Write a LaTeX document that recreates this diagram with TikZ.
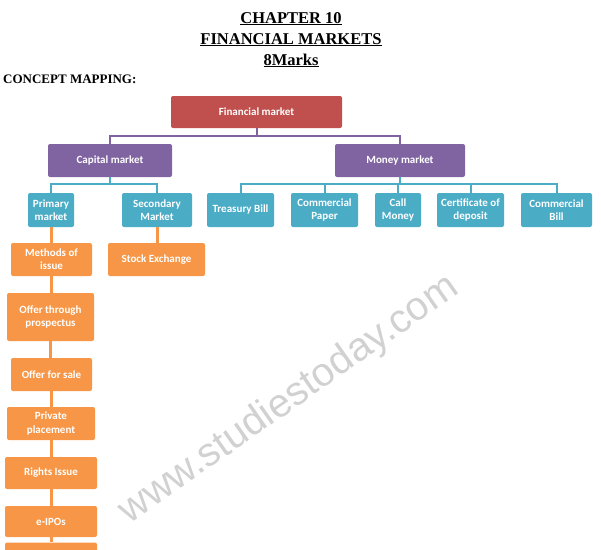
\documentclass[tikz,border=0pt]{standalone}
\usepackage{fontspec}
\usepackage{xcolor}
\usepackage{tikz}
\usetikzlibrary{positioning,calc}
\setmainfont{Liberation Serif}
\newfontfamily\boxfont{Carlito}
\newfontfamily\markfont{Liberation Sans}
\definecolor{fmred}{HTML}{C0504D}
\definecolor{fmpurple}{HTML}{8064A2}
\definecolor{fmteal}{HTML}{4BACC6}
\definecolor{fmorange}{HTML}{F79646}

\begin{document}
\begin{tikzpicture}[x=1pt, y=-1pt, every node/.style={align=center},
  box/.style={rounded corners=2pt, inner sep=1pt, text=white, font=\boxfont\bfseries\fontsize{11}{13.3}\selectfont},
  redbox/.style={box, fill=fmred},
  purplebox/.style={box, fill=fmpurple},
  tealbox/.style={box, fill=fmteal, minimum height=34pt},
  orangebox/.style={box, fill=fmorange, minimum height=33pt},
  purpleline/.style={draw=fmpurple, line width=2pt},
  tealline/.style={draw=fmteal, line width=2pt},
  orangeline/.style={draw=fmorange, line width=3pt}]
\clip (0,0) rectangle (601,549);
\node[rotate=35, text=black!18, font=\markfont\fontsize{40}{40}\selectfont] (mark) at (289,400) {www.studiestoday.com};
\node[font=\bfseries\fontsize{16.5}{20}\selectfont, anchor=base] (chap) at (291,23) {\underline{CHAPTER 10}};
\node[font=\bfseries\fontsize{16.5}{20}\selectfont, anchor=base] (title) at (291,44) {\underline{FINANCIAL MARKETS}};
\node[font=\bfseries\fontsize{16.5}{20}\selectfont, anchor=base] (marks) at (291,65) {\underline{8Marks}};
\node[font=\bfseries\fontsize{13}{15}\selectfont, anchor=base west, inner sep=0pt] (cmap) at (3,83) {CONCEPT MAPPING:};

\node[redbox, minimum width=171pt, minimum height=32pt] (fin) at (256.5,112) {Financial market};
\node[purplebox, minimum width=124pt, minimum height=33pt] (cap) at (110,160.5) {Capital market};
\node[purplebox, minimum width=130pt, minimum height=33pt] (mon) at (400,160.5) {Money market};

\node[tealbox, minimum width=46pt] (prim) at (51,210) {Primary\\market};
\node[tealbox, minimum width=70pt] (sec) at (157,210) {Secondary\\Market};
\node[tealbox, minimum width=67pt] (tb) at (240.5,210) {Treasury Bill};
\node[tealbox, minimum width=67pt] (cp) at (324.5,210) {Commercial\\Paper};
\node[tealbox, minimum width=46pt] (cm) at (398,210) {Call\\Money};
\node[tealbox, minimum width=67pt] (cd) at (470.5,210) {Certificate of\\deposit};
\node[tealbox, minimum width=71pt] (cb) at (556.5,210) {Commercial\\Bill};

\node[orangebox, minimum width=81pt] (moi) at (51.5,259.5) {Methods of\\issue};
\node[orangebox, minimum width=97pt] (se) at (156.5,259.5) {Stock Exchange};
\node[orangebox, minimum width=87pt, minimum height=48pt] (otp) at (50.5,317) {Offer through\\prospectus};
\node[orangebox, minimum width=81pt] (ofs) at (51.5,374.5) {Offer for sale};
\node[orangebox, minimum width=88pt] (pp) at (51,423.5) {Private\\placement};
\node[orangebox, minimum width=92pt, minimum height=32pt] (ri) at (51,473) {Rights Issue};
\node[orangebox, minimum width=92pt, minimum height=31pt] (ipo) at (51,521.5) {e-IPOs};
\node[orangebox, minimum width=92pt, minimum height=31pt] (more) at (51,558) {};

\draw[purpleline] (fin.south) -- ++(0,8) -| (cap.north);
\draw[purpleline] (fin.south) -- ++(0,8) -| (mon.north);
\foreach \c in {prim,sec}
  \draw[tealline] (cap.south) -- ++(0,7) -| (\c.north);
\foreach \c in {tb,cp,cm,cd,cb}
  \draw[tealline] (mon.south) -- ++(0,7) -| (\c.north);
\foreach \a/\b in {prim/moi,moi/otp,otp/ofs,ofs/pp,pp/ri,ri/ipo,ipo/more,sec/se}
  \draw[orangeline] (\a.south) -- (\a.south |- \b.north);
\end{tikzpicture}
\end{document}
